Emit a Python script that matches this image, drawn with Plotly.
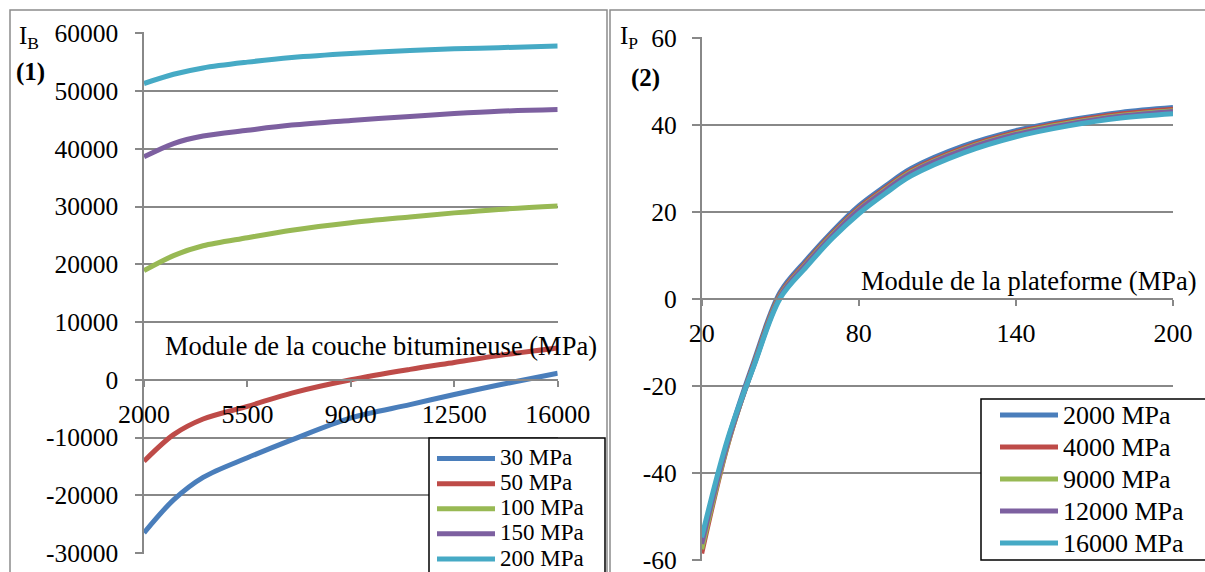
import plotly.graph_objects as go

W, H = 1205, 572

# ---------------- Panel (1): I_B vs module de la couche bitumineuse ----------------
x_bitum = [2000, 3000, 4000, 5500, 7000, 9000, 11000, 12500, 14000, 16000]
ib_30 = [-26500, -20800, -16900, -13500, -10400, -6600, -4300, -2550, -900, 1150]
ib_50 = [-14100, -9500, -6800, -4600, -2300, 0, 1800, 3000, 4200, 5500]
ib_100 = [18900, 21500, 23200, 24600, 25900, 27200, 28200, 28900, 29500, 30100]
ib_150 = [38600, 40900, 42200, 43200, 44100, 44900, 45600, 46100, 46500, 46800]
ib_200 = [51300, 52900, 54000, 55000, 55800, 56500, 57000, 57300, 57500, 57800]
names1 = ["30 MPa", "50 MPa", "100 MPa", "150 MPa", "200 MPa"]
x1_ticks = [2000, 5500, 9000, 12500, 16000]
y1_ticks = [-30000, -20000, -10000, 0, 10000, 20000, 30000, 40000, 50000, 60000]

# ---------------- Panel (2): I_P vs module de la plateforme ----------------
x_plat = [20, 30, 40, 50, 60, 70, 80, 90, 100, 120, 140, 160, 180, 200]
ip_2000 = [-57.0, -32.5, -14.2, 1.6, 9.0, 15.6, 21.4, 25.9, 30.0, 35.2, 38.7, 41.1, 42.9, 44.0]
ip_4000 = [-58.5, -33.4, -14.7, 1.1, 8.5, 15.1, 20.9, 25.4, 29.5, 34.7, 38.3, 40.7, 42.5, 43.6]
ip_9000 = [-57.5, -33.2, -15.0, 0.8, 8.2, 14.8, 20.6, 25.1, 29.2, 34.4, 38.0, 40.4, 42.2, 43.3]
ip_12000 = [-56.3, -32.8, -15.1, 0.6, 8.0, 14.6, 20.4, 24.9, 29.0, 34.2, 37.8, 40.2, 42.0, 43.1]
ip_16000 = [-54.8, -32.0, -15.3, 0.2, 7.4, 14.0, 19.6, 24.2, 28.3, 33.6, 37.3, 39.8, 41.6, 42.6]
names2 = ["2000 MPa", "4000 MPa", "9000 MPa", "12000 MPa", "16000 MPa"]
x2_ticks = [20, 80, 140, 200]
y2_ticks = [-60, -40, -20, 0, 20, 40, 60]

colors = ["#4A7EBB", "#BE4B48", "#98B954", "#7D60A0", "#46AAC5"]
FONT = "Liberation Serif"
GRID = "#888888"
LEGEND_TEXT_1 = '<span style="font-size:23px">{}</span>'
LEGEND_TEXT_2 = '<span style="font-size:26px">{}</span>'


def px(x):
    return x / W


def py(y):
    return 1 - y / H


fig = go.Figure()

for name, ys, c in zip(names1, [ib_30, ib_50, ib_100, ib_150, ib_200], colors):
    fig.add_trace(go.Scatter(x=x_bitum, y=ys, name=LEGEND_TEXT_1.format(name), mode="lines",
                             line=dict(color=c, width=5, shape="spline", smoothing=0.9),
                             xaxis="x", yaxis="y", legend="legend"))

for name, ys, c in zip(names2, [ip_2000, ip_4000, ip_9000, ip_12000, ip_16000], colors):
    fig.add_trace(go.Scatter(x=x_plat, y=ys, name=LEGEND_TEXT_2.format(name), mode="lines",
                             line=dict(color=c, width=5, shape="spline", smoothing=1.0),
                             xaxis="x2", yaxis="y2", legend="legend2"))

xtickfont = dict(family=FONT, size=26, color="black")
ytickfont = dict(family=FONT, size=25.5, color="black")

fig.update_layout(
    width=W, height=H,
    margin=dict(l=0, r=0, t=0, b=0, autoexpand=False),
    paper_bgcolor="white", plot_bgcolor="rgba(0,0,0,0)",
    font=dict(family=FONT, color="black"),
    xaxis=dict(domain=[px(144), px(557.7)], range=[2000, 16000],
               tickvals=x1_ticks, ticktext=[str(v) for v in x1_ticks],
               anchor="free", position=py(380),
               showline=True, linecolor=GRID, linewidth=1.5,
               ticks="outside", ticklen=6, tickcolor=GRID, tickwidth=1.5,
               showgrid=False, zeroline=False, tickfont=xtickfont,
               ticklabelstandoff=5, ticklabeloverflow="allow"),
    yaxis=dict(domain=[py(553.9), py(32.4)], range=[-30150, 60150],
               tickvals=y1_ticks, ticktext=[str(v) for v in y1_ticks],
               anchor="x", showline=True, linecolor=GRID, linewidth=1.5,
               ticks="outside", ticklen=7, tickcolor=GRID, tickwidth=1.5,
               showgrid=True, gridcolor=GRID, gridwidth=1.5, zeroline=False,
               tickfont=ytickfont, ticklabelstandoff=12, ticklabeloverflow="allow"),
    xaxis2=dict(domain=[px(701.7), px(1173)], range=[20, 200],
                tickvals=x2_ticks, ticktext=[str(v) for v in x2_ticks],
                anchor="free", position=py(299),
                showline=True, linecolor=GRID, linewidth=1.5,
                ticks="outside", ticklen=6, tickcolor=GRID, tickwidth=1.5,
                showgrid=False, zeroline=False, tickfont=xtickfont,
                ticklabelstandoff=5, ticklabeloverflow="allow"),
    yaxis2=dict(domain=[py(560.9), py(37.1)], range=[-60.2, 60.2],
                tickvals=y2_ticks, ticktext=[str(v) for v in y2_ticks],
                anchor="x2", showline=True, linecolor=GRID, linewidth=1.5,
                ticks="outside", ticklen=8, tickcolor=GRID, tickwidth=1.5,
                showgrid=True, gridcolor=GRID, gridwidth=1.5, zeroline=False,
                tickfont=ytickfont, ticklabelstandoff=10, ticklabeloverflow="allow"),
    legend=dict(x=px(432), y=py(441), xanchor="left", yanchor="top",
                bgcolor="rgba(0,0,0,0)", borderwidth=0,
                font=dict(family=FONT, size=17, color="black"),
                itemwidth=58, tracegroupgap=0),
    legend2=dict(x=px(995), y=py(394), xanchor="left", yanchor="top",
                 bgcolor="rgba(0,0,0,0)", borderwidth=0,
                 font=dict(family=FONT, size=22.3, color="black"),
                 itemwidth=58, tracegroupgap=0),
    showlegend=True,
)

annots = [
    dict(text="I<sub>B</sub>", x=px(17), y=py(37), size=25, xanchor="left"),
    dict(text="<b>(1)</b>", x=px(14), y=py(72), size=25, xanchor="left"),
    dict(text="Module de la couche bitumineuse (MPa)", x=px(599), y=py(346), size=26.5, xanchor="right"),
    dict(text="I<sub>P</sub>", x=px(618), y=py(37), size=25, xanchor="left"),
    dict(text="<b>(2)</b>", x=px(629), y=py(78), size=25, xanchor="left"),
    dict(text="Module de la plateforme (MPa)", x=px(1199), y=py(281), size=26.5, xanchor="right"),
]
for a in annots:
    fig.add_annotation(text=a["text"], x=a["x"], y=a["y"], xref="paper", yref="paper",
                       xanchor=a["xanchor"], yanchor="middle", showarrow=False,
                       font=dict(family=FONT, size=a["size"], color="black"))

# Panel frames
fig.add_shape(type="rect", xref="paper", yref="paper",
              x0=px(10), x1=px(607), y0=-0.1, y1=py(10),
              line=dict(color="#8C8C8C", width=1.5), layer="below")
fig.add_shape(type="rect", xref="paper", yref="paper",
              x0=px(610), x1=1.1, y0=-0.1, y1=py(10),
              line=dict(color="#8C8C8C", width=1.5), layer="below")

# Legend boxes (white background with black border, as in the reference)
fig.add_shape(type="rect", xref="paper", yref="paper",
              x0=px(429), x1=px(605), y0=-0.1, y1=py(438),
              line=dict(color="black", width=1.5), fillcolor="white", layer="above")
fig.add_shape(type="rect", xref="paper", yref="paper",
              x0=px(981), x1=1.1, y0=py(560), y1=py(399),
              line=dict(color="black", width=1.5), fillcolor="white", layer="above")

fig.write_html("out.html", config={"displayModeBar": False},
               post_script="document.body.style.margin='0';")
